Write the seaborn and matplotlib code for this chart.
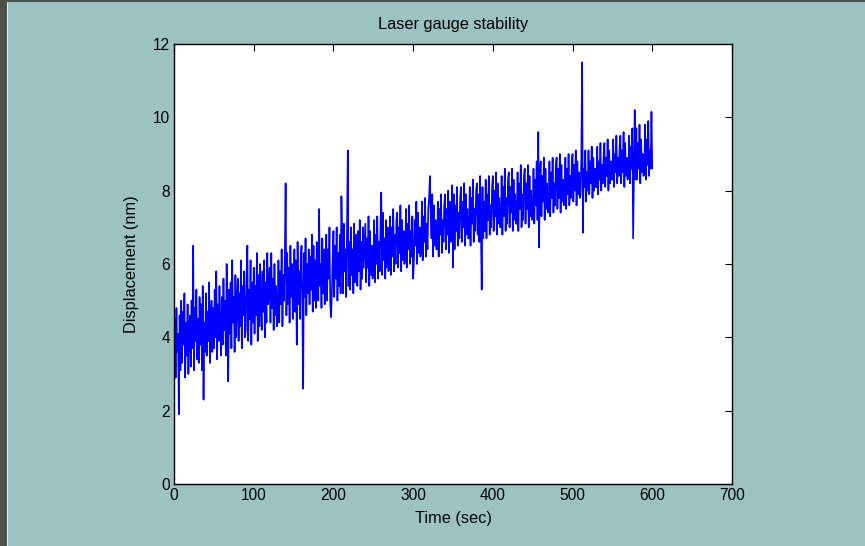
import numpy as np
import pandas as pd
import matplotlib
matplotlib.use('Agg')
import matplotlib.pyplot as plt
from matplotlib.patches import Rectangle
import seaborn as sns

# displacement samples, one per second from 0 to 600 s
displacement = [
    3.4, 4.5, 2.9, 4.8, 3.6, 4.1, 1.9, 4.6, 3.1, 5.0,
    3.3, 4.7, 3.8, 5.2, 2.9, 4.4, 3.5, 4.9, 3.0, 4.2,
    4.6, 3.2, 5.0, 3.7, 6.5, 3.1, 4.8, 3.9, 5.3, 3.4,
    4.5, 3.3, 5.1, 3.8, 4.9, 3.1, 5.4, 2.3, 4.4, 3.6,
    5.2, 3.5, 4.7, 3.9, 5.5, 3.3, 4.3, 5.0, 3.6, 4.8,
    3.7, 5.3, 4.0, 5.8, 3.4, 4.9, 3.9, 5.4, 4.2, 3.5,
    5.1, 3.8, 5.6, 4.2, 5.0, 3.5, 6.0, 4.0, 2.8, 5.3,
    4.1, 5.5, 3.7, 6.1, 4.4, 5.1, 3.6, 5.7, 4.0, 4.9,
    5.6, 3.9, 5.2, 4.3, 6.1, 3.7, 5.4, 4.6, 5.8, 4.0,
    4.2, 5.7, 6.5, 3.9, 5.3, 4.5, 6.1, 3.8, 5.5, 4.4,
    5.9, 4.1, 5.4, 4.6, 6.3, 3.9, 5.7, 4.3, 6.0, 4.8,
    4.2, 5.8, 4.7, 6.1, 4.0, 5.5, 4.4, 6.3, 4.9, 5.3,
    5.9, 4.4, 6.3, 4.8, 5.6, 4.2, 6.0, 4.6, 5.4, 4.3,
    4.7, 6.1, 4.4, 5.8, 4.9, 6.4, 4.3, 5.7, 5.0, 6.2,
    8.2, 4.6, 6.3, 4.9, 5.9, 4.4, 6.5, 5.1, 6.0, 4.5,
    5.0, 6.4, 4.7, 6.1, 3.8, 6.6, 4.9, 5.8, 4.5, 6.2,
    6.5, 4.8, 2.6, 6.3, 5.1, 6.7, 4.6, 6.0, 5.2, 6.4,
    4.9, 6.2, 5.3, 6.8, 4.7, 6.5, 5.0, 6.1, 4.8, 6.6,
    6.3, 5.0, 7.5, 5.4, 6.0, 4.8, 6.7, 5.2, 6.4, 4.9,
    5.3, 6.8, 5.0, 6.4, 5.6, 7.0, 4.9, 4.55, 5.2, 6.2,
    6.9, 5.1, 6.5, 5.6, 7.0, 5.0, 6.3, 5.4, 6.8, 5.2,
    7.85, 6.7, 5.2, 7.1, 5.8, 6.4, 5.1, 6.9, 9.1, 5.4,
    6.6, 5.3, 7.0, 5.7, 6.4, 5.2, 7.1, 5.5, 6.8, 5.9,
    5.4, 6.9, 5.8, 7.2, 5.3, 6.6, 5.6, 7.0, 5.9, 6.5,
    7.1, 5.5, 6.7, 5.9, 7.3, 5.4, 6.9, 5.7, 6.5, 5.6,
    5.7, 7.2, 5.5, 6.8, 6.0, 7.3, 5.6, 6.6, 5.8, 7.0,
    7.95, 5.7, 7.4, 6.1, 6.7, 5.6, 7.2, 5.9, 7.0, 5.8,
    5.9, 7.3, 5.7, 7.0, 6.2, 7.5, 5.8, 6.8, 6.0, 7.2,
    7.4, 5.9, 7.0, 6.3, 7.6, 5.8, 7.2, 6.1, 6.9, 6.0,
    6.1, 7.5, 5.9, 7.1, 6.4, 7.6, 6.0, 6.9, 6.2, 7.3,
    5.6, 6.1, 7.2, 6.5, 7.7, 6.0, 7.4, 6.3, 7.0, 6.2,
    6.3, 7.7, 6.1, 7.3, 6.6, 7.8, 6.2, 7.1, 6.4, 7.5,
    7.8, 8.4, 7.4, 6.7, 7.9, 6.2, 7.6, 6.5, 7.2, 6.4,
    6.4, 7.7, 6.2, 7.5, 6.8, 7.9, 6.3, 7.2, 6.6, 7.6,
    7.9, 6.4, 7.5, 6.8, 8.0, 6.3, 7.7, 6.6, 7.3, 8.15,
    5.9, 7.9, 6.4, 7.6, 6.9, 8.1, 6.5, 7.4, 6.7, 7.8,
    8.1, 6.6, 7.7, 7.0, 8.2, 6.5, 7.9, 6.8, 7.5, 6.7,
    6.7, 8.1, 6.5, 7.8, 7.1, 8.3, 6.6, 7.5, 6.9, 8.0,
    8.2, 6.8, 7.9, 6.6, 8.4, 7.0, 5.3, 8.1, 6.7, 7.7,
    6.9, 8.3, 6.7, 7.9, 7.2, 8.4, 6.8, 7.6, 7.0, 8.1,
    8.4, 6.9, 8.0, 7.3, 8.5, 6.8, 8.2, 7.1, 7.8, 7.0,
    7.0, 8.4, 6.8, 8.1, 7.3, 8.6, 6.9, 7.8, 7.1, 8.3,
    8.5, 7.0, 8.1, 7.4, 8.6, 6.9, 8.3, 7.2, 7.9, 7.1,
    7.1, 8.5, 6.9, 8.2, 7.5, 8.7, 7.0, 7.9, 7.2, 8.4,
    8.6, 7.1, 8.2, 7.5, 8.7, 7.0, 8.4, 7.3, 8.0, 7.2,
    7.3, 8.6, 7.1, 8.3, 7.6, 8.8, 7.2, 9.6, 6.45, 8.5,
    8.8, 7.3, 8.4, 7.7, 8.9, 7.2, 8.6, 7.5, 8.2, 7.4,
    7.5, 8.8, 7.3, 8.5, 7.8, 8.9, 7.4, 8.2, 7.6, 8.7,
    8.9, 7.5, 8.6, 7.8, 9.0, 7.4, 8.7, 7.7, 8.3, 7.6,
    7.7, 8.9, 7.5, 8.6, 7.9, 9.0, 7.6, 8.4, 7.8, 8.8,
    9.0, 7.7, 8.7, 8.0, 9.1, 7.6, 8.8, 7.9, 8.5, 7.8,
    7.9, 8.9, 11.5, 6.85, 8.6, 8.1, 9.1, 7.7, 8.5, 8.0,
    9.1, 7.9, 8.8, 8.2, 9.2, 7.8, 8.9, 8.0, 8.6, 8.1,
    8.1, 9.2, 7.9, 8.8, 8.3, 9.3, 8.0, 8.7, 8.2, 9.0,
    9.3, 8.1, 8.9, 8.4, 9.4, 8.0, 9.1, 8.2, 8.8, 8.3,
    8.3, 9.4, 8.1, 9.0, 8.5, 9.5, 8.2, 8.9, 8.4, 9.2,
    9.5, 8.2, 9.1, 8.5, 9.6, 8.1, 9.3, 8.4, 8.9, 8.3,
    8.4, 9.5, 8.2, 9.2, 8.6, 9.7, 6.7, 8.5, 10.2, 8.3,
    9.7, 8.3, 9.3, 8.6, 9.8, 8.2, 9.4, 8.5, 9.0, 8.4,
    8.5, 9.8, 8.3, 9.4, 8.7, 9.9, 8.4, 9.1, 8.6, 10.15,
    8.6,
]
time_sec = np.arange(len(displacement), dtype=float)

df = pd.DataFrame({'Time': time_sec, 'Displacement': displacement})

sns.set_style('white')
plt.rcParams['font.family'] = ['Liberation Sans', 'DejaVu Sans']
plt.rcParams['text.color'] = 'black'
plt.rcParams['axes.labelcolor'] = 'black'

fig = plt.figure(figsize=(8.65, 5.46), dpi=100, facecolor='#9cc3c1')
ax = fig.add_axes([0.2012, 0.1136, 0.6450, 0.8058])

sns.lineplot(data=df, x='Time', y='Displacement', ax=ax, color='#0000ff',
             linewidth=1.2, estimator=None)

ax.set_xlim(0, 700)
ax.set_ylim(0, 12)
ax.set_xticks(range(0, 701, 100))
ax.set_yticks(range(0, 13, 2))
ax.set_facecolor('white')
for s in ax.spines.values():
    s.set_color('black')
    s.set_linewidth(1.0)
ax.tick_params(direction='in', length=5, width=0.8, top=True, right=True,
               labelsize=11.2, colors='black', pad=3)
ax.set_title('Laser gauge stability', fontsize=11.8, pad=11, color='black')
ax.set_xlabel('Time (sec)', fontsize=11.8, labelpad=6)
ax.set_ylabel('Displacement (nm)', fontsize=11.8, labelpad=10)

# window frame strips at the left and top edge
fig.add_artist(Rectangle((0, 0), 7 / 865, 1, transform=fig.transFigure,
                         facecolor='#4f5047', edgecolor='none'))
fig.add_artist(Rectangle((0, 1 - 2 / 546), 1, 2 / 546, transform=fig.transFigure,
                         facecolor='#4f5047', edgecolor='none'))
fig.add_artist(Rectangle((7 / 865, 0), 1 / 865, 1 - 2 / 546, transform=fig.transFigure,
                         facecolor='#e8eeee', edgecolor='none'))

fig.savefig('out.png', dpi=100, facecolor=fig.get_facecolor())
